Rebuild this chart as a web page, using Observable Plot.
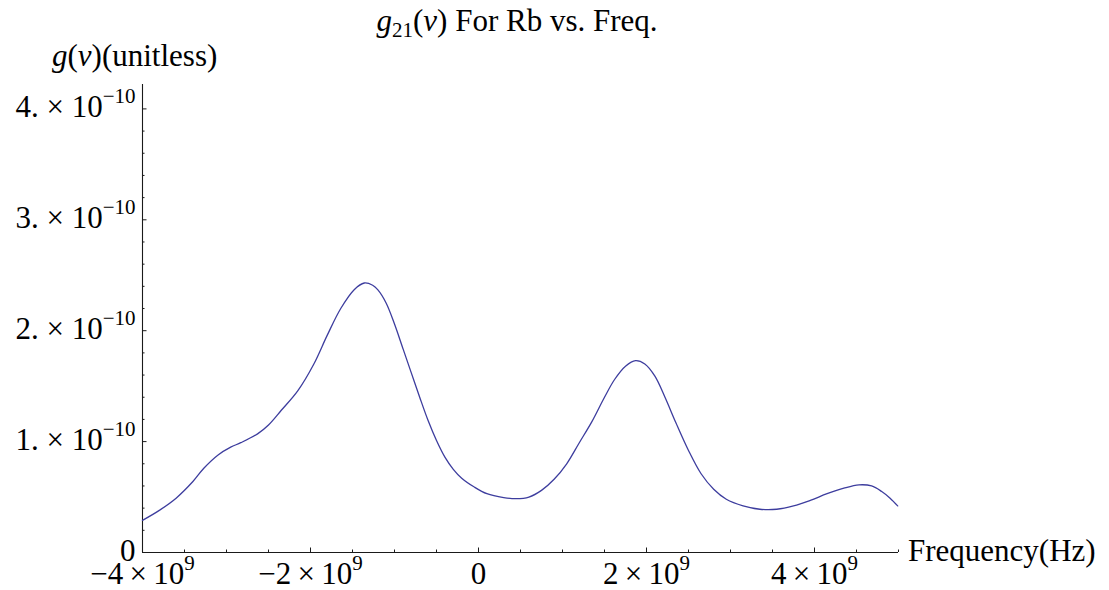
<!DOCTYPE html>
<html>
<head>
<meta charset="utf-8">
<script src="https://cdn.jsdelivr.net/npm/d3@7"></script>
<script src="https://cdn.jsdelivr.net/npm/@observablehq/plot@0.6"></script>
<style>
  html, body { margin: 0; padding: 0; background: #fff; }
  #wrap { position: relative; width: 1109px; height: 590px; overflow: hidden;
          font-family: "Liberation Serif", "Times New Roman", serif; color: #000; }
  .lbl { position: absolute; white-space: nowrap; font-size: 31px; line-height: 1; }
  .sub { font-size: 21px; position: relative; top: 6px; }
  #chart { position: absolute; left: 0; top: 0; }
</style>
</head>
<body>
<div id="wrap">
  <div id="chart"></div>
  <div class="lbl" id="title" style="left:517px; top:5px; transform:translateX(-50%);"><i>g</i><span class="sub">21</span>(<i>ν</i>) For Rb vs. Freq.</div>
  <div class="lbl" id="ylabel" style="left:52px; top:40px;"><i>g</i>(<i>ν</i>)(unitless)</div>
  <div class="lbl" id="xlabel" style="left:908px; top:535px;">Frequency(Hz)</div>
</div>
<script>
// ---- data ----
const freqHz = [
  -4.00e9, -3.80e9, -3.60e9, -3.40e9, -3.27e9, -3.10e9, -2.95e9, -2.83e9, -2.63e9, -2.50e9,
  -2.35e9, -2.15e9, -1.96e9, -1.80e9, -1.64e9, -1.48e9, -1.36e9, -1.26e9, -1.20e9, -1.10e9,
  -1.00e9, -0.90e9, -0.80e9, -0.70e9, -0.60e9, -0.50e9, -0.40e9, -0.30e9, -0.20e9, -0.05e9,
  0.10e9, 0.30e9, 0.45e9, 0.60e9, 0.75e9, 0.90e9, 1.05e9, 1.20e9, 1.35e9, 1.50e9,
  1.62e9, 1.75e9, 1.87e9, 1.98e9, 2.10e9, 2.22e9, 2.35e9, 2.50e9, 2.65e9, 2.80e9,
  2.95e9, 3.15e9, 3.35e9, 3.55e9, 3.75e9, 3.95e9, 4.15e9, 4.35e9, 4.53e9, 4.68e9,
  4.80e9, 4.90e9, 4.99e9
];
const gValue = [
  0.29e-10, 0.38e-10, 0.49e-10, 0.64e-10, 0.76e-10, 0.88e-10, 0.95e-10, 0.99e-10, 1.07e-10, 1.15e-10,
  1.28e-10, 1.46e-10, 1.70e-10, 1.96e-10, 2.20e-10, 2.37e-10, 2.43e-10, 2.41e-10, 2.37e-10, 2.25e-10,
  2.06e-10, 1.84e-10, 1.62e-10, 1.40e-10, 1.19e-10, 1.01e-10, 0.86e-10, 0.75e-10, 0.67e-10, 0.59e-10,
  0.53e-10, 0.495e-10, 0.485e-10, 0.50e-10, 0.56e-10, 0.66e-10, 0.80e-10, 0.99e-10, 1.18e-10, 1.40e-10,
  1.56e-10, 1.68e-10, 1.73e-10, 1.70e-10, 1.59e-10, 1.40e-10, 1.17e-10, 0.92e-10, 0.71e-10, 0.57e-10,
  0.48e-10, 0.42e-10, 0.39e-10, 0.39e-10, 0.42e-10, 0.47e-10, 0.53e-10, 0.58e-10, 0.61e-10, 0.60e-10,
  0.55e-10, 0.49e-10, 0.42e-10
];

const xMajorTicks = [-4e9, -2e9, 0, 2e9, 4e9];
const xTickLabels = ["\u22124\u2009\u00d7\u200910^9", "\u22122\u2009\u00d7\u200910^9", "0", "2\u2009\u00d7\u200910^9", "4\u2009\u00d7\u200910^9"];
const xMinorTicks = [-3.5e9, -3e9, -2.5e9, -1.5e9, -1e9, -0.5e9, 0.5e9, 1e9, 1.5e9, 2.5e9, 3e9, 3.5e9, 4.5e9, 5e9];

const yMajorTicks = [0, 1e-10, 2e-10, 3e-10, 4e-10];
const yTickLabels = ["0", "1. \u00d7 10^\u221210", "2. \u00d7 10^\u221210", "3. \u00d7 10^\u221210", "4. \u00d7 10^\u221210"];
const yMinorTicks = [0.2e-10, 0.4e-10, 0.6e-10, 0.8e-10, 1.2e-10, 1.4e-10, 1.6e-10, 1.8e-10,
                     2.2e-10, 2.4e-10, 2.6e-10, 2.8e-10, 3.2e-10, 3.4e-10, 3.6e-10, 3.8e-10];

// ---- build ----
const curve = freqHz.map((f, i) => ({f, g: gValue[i]}));
const xLab = new Map(xMajorTicks.map((v, i) => [v, xTickLabels[i]]));
const yLab = new Map(yMajorTicks.map((v, i) => [v, yTickLabels[i]]));
const axisColor = "#1a1a1a";

const plot = Plot.plot({
  width: 1109,
  height: 590,
  marginLeft: 142,
  marginRight: 211,
  marginTop: 84,
  marginBottom: 38,
  x: {domain: [-4e9, 5e9]},
  y: {domain: [0, 4.22e-10]},
  style: {fontFamily: "'Liberation Serif', 'Times New Roman', serif", fontSize: "31px", color: "#000", background: "transparent", overflow: "visible"},
  marks: [
    Plot.ruleY([0], {stroke: axisColor, strokeWidth: 1.1}),
    Plot.ruleX([-4e9], {stroke: axisColor, strokeWidth: 1.1}),
    Plot.axisX({ticks: xMinorTicks, tickSize: -2.5, tickFormat: () => "", label: null, stroke: axisColor}),
    Plot.axisX({ticks: xMajorTicks, tickSize: -4.5, tickFormat: () => "", label: null, stroke: axisColor}),
    Plot.axisY({ticks: yMinorTicks, tickSize: -2.5, tickFormat: () => "", label: null, stroke: axisColor}),
    Plot.axisY({ticks: yMajorTicks, tickSize: -4.5, tickFormat: () => "", label: null, stroke: axisColor}),
    Plot.text(xMajorTicks, {x: d => d, frameAnchor: "bottom", text: d => xLab.get(d), dy: 31, lineAnchor: "bottom", textAnchor: "middle", fill: "#000"}),
    Plot.text(yMajorTicks, {y: d => d, frameAnchor: "left", text: d => yLab.get(d), dx: -7, dy: 8, lineAnchor: "bottom", textAnchor: "end", fill: "#000"}),
    Plot.line(curve, {x: "f", y: "g", stroke: "#3d3d9e", strokeWidth: 1.3, curve: "catmull-rom"})
  ]
});
document.getElementById("chart").appendChild(plot);

// render exponents as superscripts
d3.select(plot).selectAll("text").each(function () {
  const t = d3.select(this);
  const s = t.text();
  const k = s.indexOf("^");
  if (k < 0) return;
  const base = s.slice(0, k), exp = s.slice(k + 1);
  t.text(null);
  t.append("tspan").text(base);
  t.append("tspan").attr("dy", -14).attr("font-size", 21).text(exp);
});
</script>
</body>
</html>
